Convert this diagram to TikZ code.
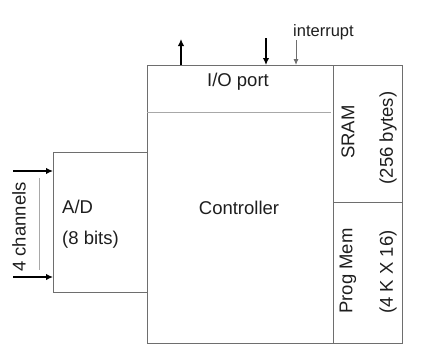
\documentclass[tikz,border=0pt]{standalone}
\usepackage{fontspec}
\setmainfont{Liberation Sans}
\usetikzlibrary{arrows.meta}
\definecolor{boxgray}{HTML}{6E6E6E}
\definecolor{divgray}{HTML}{A8A8A8}
\definecolor{txt}{HTML}{1E1E1E}
\tikzset{
  box/.style={draw=boxgray, line width=1.3pt, inner sep=0pt, anchor=north west},
  lbl/.style={inner sep=0pt, text=txt, font=\fontsize{18.5}{22}\selectfont},
  small/.style={inner sep=0pt, text=txt, font=\fontsize{16.5}{19}\selectfont},
  bigarrow/.style={line width=2.4pt, -{Latex[length=7pt,width=6.5pt]}},
  thinarrow/.style={line width=0.9pt, draw=boxgray, -{Latex[length=6pt,width=5pt]}},
}
\begin{document}
\begin{tikzpicture}[x=1pt,y=-1pt]
\useasboundingbox (0,0) rectangle (441,356);
% boxes
\node[box, minimum width=186pt, minimum height=278pt] (ctrl) at (147,65) {};
\node[box, minimum width=69pt, minimum height=137pt] (sram) at (333,65) {};
\node[box, minimum width=69pt, minimum height=141pt] (prog) at (333,202) {};
\node[box, minimum width=94pt, minimum height=140pt] (ad) at (53,152) {};
% I/O divider
\coordinate (dl) at (147,112);
\coordinate (dr) at (331,112);
\draw[divgray, line width=0.8pt] (dl) -- (dr);
% texts
\node[lbl] (io) at (238,82) {I/O port};
\node[lbl] (ct) at (239,208) {Controller};
\node[lbl, anchor=west] (adt) at (62,207) {A/D};
\node[lbl, anchor=west] (adb) at (62,240) {(8 bits)};
\node[lbl, rotate=90] (s1) at (348,132) {SRAM};
\node[lbl, rotate=90] (s2) at (388,138) {(256 bytes)};
\node[lbl, rotate=90] (p1) at (348,271) {Prog Mem};
\node[lbl, rotate=90] (p2) at (388,272) {(4 K X 16)};
\node[lbl, rotate=90] (ch) at (19,227) {4 channels};
\node[small, anchor=west] (intr) at (293,32) {interrupt};
% A/D inputs
\coordinate (a1) at (13,171);
\coordinate (a2) at (13,277);
\draw[bigarrow] (a1) -- (a1 -| ad.west);
\draw[bigarrow] (a2) -- (a2 -| ad.west);
\coordinate (c1) at (39,178);
\coordinate (c2) at (39,270);
\draw[divgray, line width=0.6pt] (c1) -- (c2);
% top arrows
\coordinate (u1) at (181,65);
\coordinate (u2) at (181,39);
\draw[bigarrow] (u1) -- (u2);
\coordinate (d1) at (266,38);
\coordinate (d2) at (266,65);
\draw[bigarrow] (d1) -- (d2);
\coordinate (i1) at (296,40);
\coordinate (i2) at (296,65);
\draw[thinarrow] (i1) -- (i2);
\end{tikzpicture}
\end{document}
